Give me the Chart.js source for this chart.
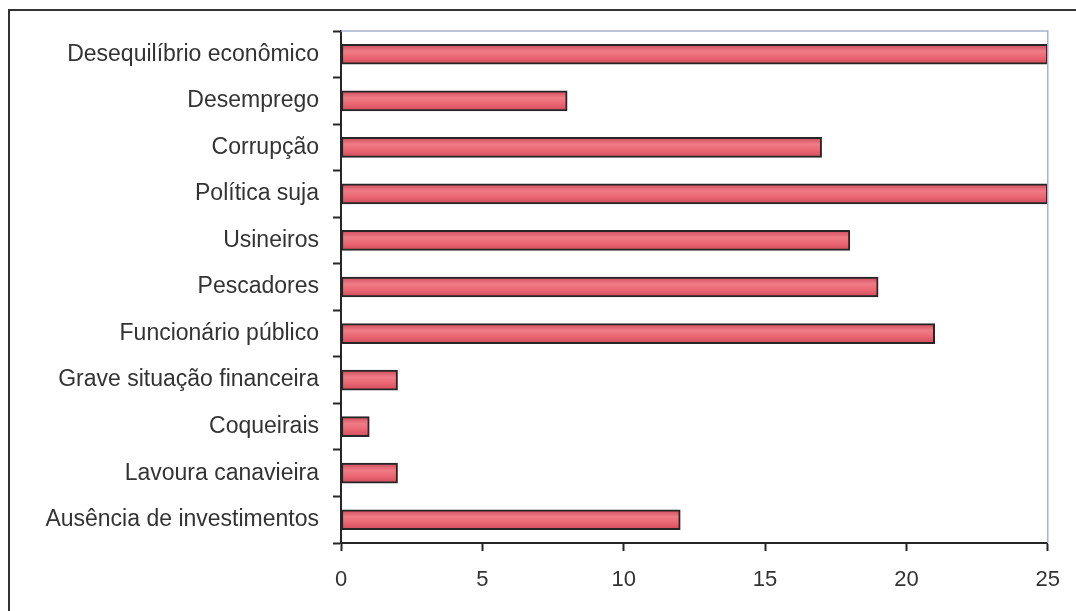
<!DOCTYPE html>
<html>
<head>
<meta charset="utf-8">
<script src="https://cdn.jsdelivr.net/npm/chart.js@4/dist/chart.umd.min.js"></script>
<style>
  html, body { margin: 0; padding: 0; background: #fff; }
  #wrap { width: 1076px; height: 611px; position: relative; }
</style>
</head>
<body>
<div id="wrap"><canvas id="chart" width="1076" height="611"></canvas></div>
<script>
const categories = [
  "Desequilíbrio econômico",
  "Desemprego",
  "Corrupção",
  "Política suja",
  "Usineiros",
  "Pescadores",
  "Funcionário público",
  "Grave situação financeira",
  "Coqueirais",
  "Lavoura canavieira",
  "Ausência de investimentos"
];
const counts = [25, 8, 17, 25, 18, 19, 21, 2, 1, 2, 12];
const xTicks = [0, 5, 10, 15, 20, 25];

const BAR_H = 20;

// shaded fill, lighter through the middle of each bar
function barFill(ctx) {
  const chart = ctx.chart;
  const y = chart.scales.y;
  if (!y || ctx.dataIndex === undefined) return "#e8606c";
  const c = y.getPixelForValue(ctx.dataIndex);
  if (!isFinite(c)) return "#e8606c";
  const g = chart.ctx.createLinearGradient(0, c - BAR_H / 2, 0, c + BAR_H / 2);
  g.addColorStop(0, "#cc4a5a");
  g.addColorStop(0.35, "#f07c86");
  g.addColorStop(0.65, "#ea6672");
  g.addColorStop(1, "#d04c5c");
  return g;
}

// outer frame (left + top) and the light top/right edges of the plot area
const framePlugin = {
  id: "frame",
  beforeDraw(chart) {
    const c = chart.ctx;
    c.save();
    c.strokeStyle = "#333";
    c.lineWidth = 2;
    c.beginPath();
    c.moveTo(9, chart.height);
    c.lineTo(9, 10);
    c.lineTo(chart.width, 10);
    c.stroke();
    c.restore();
  },
  afterDraw(chart) {
    const a = chart.chartArea;
    const c = chart.ctx;
    c.save();
    c.strokeStyle = "#a9b1cc";
    c.lineWidth = 1.5;
    c.beginPath();
    c.moveTo(a.left, a.top);
    c.lineTo(a.right, a.top);
    c.lineTo(a.right, a.bottom);
    c.stroke();
    c.restore();
  }
};

new Chart(document.getElementById("chart"), {
  type: "bar",
  data: {
    labels: categories,
    datasets: [{
      data: counts,
      backgroundColor: barFill,
      borderColor: "#262626",
      borderWidth: 2,
      borderSkipped: false,
      barThickness: BAR_H
    }]
  },
  options: {
    indexAxis: "y",
    responsive: false,
    animation: false,
    layout: { padding: { top: 31, right: 27, left: 0, bottom: 0 } },
    plugins: {
      legend: { display: false },
      tooltip: { enabled: false }
    },
    scales: {
      x: {
        min: 0,
        max: 25,
        afterBuildTicks: s => { s.ticks = xTicks.map(v => ({ value: v })); },
        afterFit: s => { s.height = 68; },
        border: { color: "#262626", width: 2 },
        grid: { drawOnChartArea: false, tickLength: 8, tickColor: "#262626", tickWidth: 2 },
        ticks: {
          color: "#333",
          padding: 16,
          maxRotation: 0,
          font: { family: "'Liberation Sans', Arial, sans-serif", size: 22 }
        }
      },
      y: {
        afterFit: s => { s.width = 341; },
        border: { color: "#262626", width: 2 },
        grid: { offset: true, drawOnChartArea: false, tickLength: 8, tickColor: "#262626", tickWidth: 2 },
        ticks: {
          color: "#333",
          padding: 14,
          font: { family: "'Liberation Sans', Arial, sans-serif", size: 23 }
        }
      }
    }
  },
  plugins: [framePlugin]
});
</script>
</body>
</html>
